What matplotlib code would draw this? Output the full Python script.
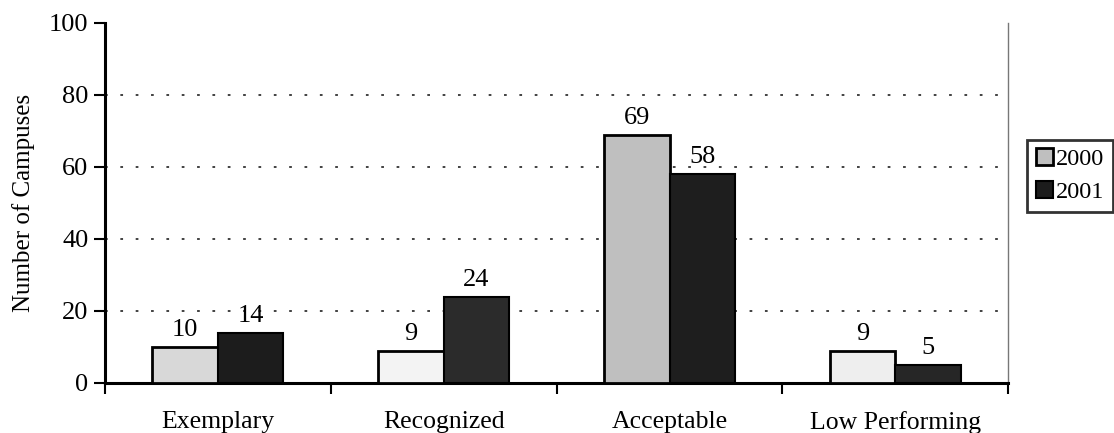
import matplotlib
matplotlib.use("Agg")
import matplotlib.pyplot as plt
import numpy as np

categories = ["Exemplary", "Recognized", "Acceptable", "Low Performing"]
series_names = ["2000", "2001"]
values_2000 = [10, 9, 69, 9]
values_2001 = [14, 24, 58, 5]
y_ticks = [0, 20, 40, 60, 80, 100]

plt.rcParams['font.family'] = ['Liberation Serif', 'DejaVu Serif']

fig = plt.figure(figsize=(11.14, 4.33), dpi=100)
ax = fig.add_axes([0.0943, 0.1155, 0.8107, 0.8315])

x = np.arange(len(categories))
w = 0.29
colors_2000 = ['#d8d8d8', '#f3f3f3', '#bfbfbf', '#eeeeee']
colors_2001 = ['#1c1c1c', '#2b2b2b', '#1e1e1e', '#262626']

b1 = ax.bar(x - w/2, values_2000, w, color=colors_2000, edgecolor='black', linewidth=2, label=series_names[0], zorder=3)
b2 = ax.bar(x + w/2, values_2001, w, color=colors_2001, edgecolor='black', linewidth=1.5, label=series_names[1], zorder=3)

for bars, vals in ((b1, values_2000), (b2, values_2001)):
    for rect, v in zip(bars, vals):
        ax.text(rect.get_x() + rect.get_width()/2, v + 1.6, str(v), ha='center', va='bottom', fontsize=19)

ax.set_xlim(-0.5, len(categories) - 0.5)
ax.set_ylim(0, 100)
ax.set_yticks(y_ticks)
ax.set_yticklabels([str(t) for t in y_ticks], fontsize=19)
ax.tick_params(axis='y', direction='out', length=8, width=1.5, pad=4)

ax.set_xticks(np.arange(-0.5, len(categories)), minor=False)
ax.set_xticklabels([])
ax.set_xticks(x, minor=True)
ax.set_xticklabels(categories, minor=True, fontsize=18.5)
ax.tick_params(axis='x', which='major', direction='out', length=8, width=1.5)
ax.tick_params(axis='x', which='minor', length=0, pad=20)

for yv in y_ticks[1:-1]:
    ax.axhline(yv, color='#333333', linestyle=(0, (1.5, 7)), linewidth=1.3, zorder=1)

ax.spines['top'].set_visible(False)
ax.spines['right'].set_color('#777777')
ax.spines['right'].set_linewidth(1.0)
ax.spines['left'].set_linewidth(2.2)
ax.spines['bottom'].set_linewidth(2.2)

ax.set_ylabel("Number of Campuses", fontsize=18, labelpad=10)

leg = fig.legend(handles=[b1[2], b2[0]], labels=series_names, loc='upper left',
                 bbox_to_anchor=(0.922, 0.677), fontsize=17.5, frameon=True, fancybox=False,
                 edgecolor='black', handlelength=0.7, handleheight=0.7, handletextpad=0.15,
                 borderpad=0.35, labelspacing=0.45, borderaxespad=0)
leg.get_frame().set_linewidth(2)

fig.savefig("out.png", dpi=100, facecolor='white')
